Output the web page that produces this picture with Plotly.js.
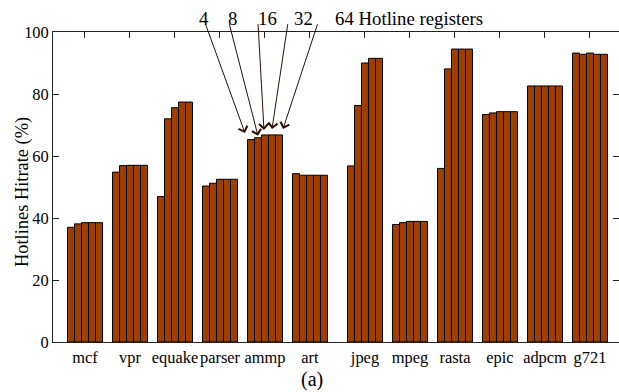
<!DOCTYPE html>
<html>
<head>
<meta charset="utf-8">
<script src="https://cdn.plot.ly/plotly-3.0.1.min.js"></script>
<style>html,body{margin:0;padding:0;background:#fff;}#chart{width:619px;height:392px;}</style>
</head>
<body>
<div id="chart"></div>
<script>
// Benchmarks
const categories = ['mcf','vpr','equake','parser','ammp','art','jpeg','mpeg','rasta','epic','adpcm','g721'];
// Hotline register counts (one series each)
const seriesNames = ['4','8','16','32','64'];
const hit4  = [37.0, 54.8, 46.9, 50.3, 65.3, 54.3, 56.8, 37.9, 56.0, 73.4, 82.6, 93.2];
const hit8  = [38.1, 56.9, 72.0, 51.2, 65.9, 53.8, 76.3, 38.5, 88.1, 73.9, 82.6, 92.8];
const hit16 = [38.5, 57.0, 75.6, 52.5, 66.8, 53.8, 90.0, 38.9, 94.5, 74.3, 82.6, 93.2];
const hit32 = [38.5, 57.0, 77.4, 52.5, 66.8, 53.8, 91.5, 38.9, 94.5, 74.3, 82.6, 92.8];
const hit64 = [38.5, 57.0, 77.4, 52.5, 66.8, 53.8, 91.5, 38.9, 94.5, 74.3, 82.6, 92.8];
const yTicks = [0, 20, 40, 60, 80, 100];

// group positions: small extra gap between the two benchmark suites (layout)
const xpos = categories.map((c, i) => i < 6 ? i : i + 0.222);

const allSeries = [hit4, hit8, hit16, hit32, hit64];
const traces = allSeries.map((vals, k) => ({
  type: 'bar',
  name: seriesNames[k],
  x: xpos,
  y: vals,
  marker: {color: 'rgb(160,62,0)', line: {color: '#000', width: 1}},
  showlegend: false,
  hoverinfo: 'skip'
}));

const serif = 'Liberation Serif, Times New Roman, serif';
const ammp = xpos[4];
// arrows from labels to the ammp bars
const arrowHeads = [[ammp - 0.444, 67.4], [ammp - 0.156, 66.5], [ammp - 0.022, 68.4], [ammp + 0.156, 68.7], [ammp + 0.4, 68.7]];
const arrowTails = [[ammp - 1.333, 103], [ammp - 0.8, 103], [ammp - 0.156, 103], [ammp + 0.511, 103], [ammp + 1.178, 103]];
const annotations = [];
arrowHeads.forEach((h, k) => {
  annotations.push({
    x: h[0], y: h[1], xref: 'x', yref: 'y',
    ax: arrowTails[k][0], ay: arrowTails[k][1], axref: 'x', ayref: 'y',
    text: '', showarrow: true, arrowhead: 4, arrowsize: 1.8, arrowwidth: 1,
    arrowcolor: '#2a1000', standoff: 0
  });
});
const labelX = [0.2668, 0.3171, 0.3781, 0.4426];
seriesNames.slice(0, 4).forEach((s, k) => {
  annotations.push({x: labelX[k], y: 1.045, xref: 'paper', yref: 'paper', text: s, showarrow: false,
    xanchor: 'center', yanchor: 'middle', font: {family: serif, size: 18.8, color: '#000'}});
});
annotations.push({x: 0.4947, y: 1.045, xref: 'paper', yref: 'paper', text: seriesNames[4] + ' Hotline registers',
  showarrow: false, xanchor: 'left', yanchor: 'middle', font: {family: serif, size: 18.8, color: '#000'}});
annotations.push({x: -0.053, y: 0.484, xref: 'paper', yref: 'paper', text: 'Hotlines Hitrate (%)',
  showarrow: false, textangle: -90, xanchor: 'center', yanchor: 'middle', font: {family: serif, size: 18.4, color: '#000'}});
annotations.push({x: 0.4576, y: -0.122, xref: 'paper', yref: 'paper', text: '(a)',
  showarrow: false, xanchor: 'center', yanchor: 'middle', font: {family: serif, size: 20, color: '#000'}});

const layout = {
  width: 619, height: 392,
  margin: {l: 53, r: 0, t: 32, b: 50, pad: 0},
  paper_bgcolor: '#fff', plot_bgcolor: '#fff',
  barmode: 'group', bargap: 0.222, bargroupgap: 0,
  font: {family: serif, size: 16, color: '#000'},
  xaxis: {
    type: 'linear', range: [-0.711, 11.867],
    tickvals: xpos, ticktext: categories, tickangle: 0,
    ticks: 'inside', ticklen: 6, tickcolor: '#222', mirror: 'ticks',
    showline: true, linecolor: '#222', linewidth: 1,
    showgrid: false, zeroline: false, layer: 'below traces',
    tickfont: {family: serif, size: 16.4, color: '#000'}
  },
  yaxis: {
    range: [0, 100], tickvals: yTicks,
    ticks: 'inside', ticklen: 6, tickcolor: '#222', mirror: 'ticks',
    showline: true, linecolor: '#222', linewidth: 1,
    showgrid: false, zeroline: false, layer: 'below traces',
    tickfont: {family: serif, size: 16.4, color: '#000'}
  },
  annotations: annotations
};

Plotly.newPlot('chart', traces, layout, {staticPlot: true, displayModeBar: false});
</script>
</body>
</html>
